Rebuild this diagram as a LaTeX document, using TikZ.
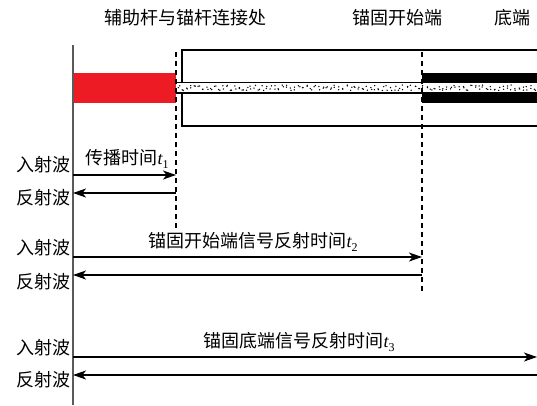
\documentclass[tikz,border=0pt]{standalone}
\usepackage{fontspec}
\setmainfont{Liberation Serif}
\newfontfamily\cjk{Noto Sans CJK SC}
\usetikzlibrary{arrows.meta}
\definecolor{barred}{RGB}{237,28,36}
\definecolor{axisgray}{RGB}{90,90,90}
\tikzset{
  lbl/.style={font=\cjk\fontsize{18}{21}\selectfont, inner sep=0pt},
  side/.style={lbl, anchor=east},
  wave/.style={line width=1.1pt, -{Stealth[length=13pt,width=9pt,inset=3.5pt]}},
  guide/.style={line width=1.1pt, dash pattern=on 5pt off 4pt},
  axisline/.style={line width=1.8pt, draw=axisgray}
}
\newcommand{\tsub}[1]{{\rmfamily\itshape t}\raisebox{-0.25em}{\rmfamily\fontsize{12}{13}\selectfont #1}}
\begin{document}
\begin{tikzpicture}[x=1pt,y=-1pt]
\useasboundingbox (0,0) rectangle (537,405);
\clip (0,0) rectangle (537,405);
% bolt assembly
\draw[line width=1.3pt] (182,50) rectangle (560,126);
\fill[barred] (73,73) rectangle (176,103);
\fill[black] (422,73) rectangle (560,103);
\fill[white] (176,82.5) rectangle (560,93);
\pgfmathsetseed{7}
\foreach \i in {0,...,90}{
  \pgfmathsetmacro{\xa}{178+4*\i+rnd*2}
  \pgfmathsetmacro{\ya}{85+rnd*5.5}
  \pgfmathsetmacro{\xb}{178+4*\i+rnd*2}
  \pgfmathsetmacro{\yb}{85+rnd*5.5}
  \fill (\xa,\ya) circle (0.75);
  \fill (\xb,\yb) circle (0.75);
}
\draw[line width=1.1pt] (176,82.5) -- (560,82.5) (176,93) -- (560,93);
% axis
\coordinate (axtop) at (73,45);
\coordinate (axbot) at (73,405);
\draw[axisline] (axtop) -- (axbot);
% guides
\coordinate (g1t) at (176,52);
\coordinate (g1b) at (176,230);
\coordinate (g2t) at (422,52);
\coordinate (g2b) at (422,293);
\draw[guide] (g1t) -- (g1b);
\draw[guide] (g2t) -- (g2b);
% top labels
\node[lbl] (top1) at (185,18) {辅助杆与锚杆连接处};
\node[lbl] (top2) at (397,18) {锚固开始端};
\node[lbl] (top3) at (512,18) {底端};
% side labels
\node[side] (in1) at (71,165) {入射波};
\node[side] (re1) at (71,198) {反射波};
\node[side] (in2) at (71,248) {入射波};
\node[side] (re2) at (71,282) {反射波};
\node[side] (in3) at (71,348) {入射波};
\node[side] (re3) at (71,380) {反射波};
% wave endpoints
\coordinate (a1s) at (73,175);  \coordinate (a1e) at (176,175);
\coordinate (b1s) at (176,193); \coordinate (b1e) at (73,193);
\coordinate (a2s) at (73,257);  \coordinate (a2e) at (422,257);
\coordinate (b2s) at (422,275); \coordinate (b2e) at (73,275);
\coordinate (a3s) at (73,357);  \coordinate (a3e) at (537,357);
\coordinate (b3s) at (537,375); \coordinate (b3e) at (73,375);
\draw[wave] (a1s) -- (a1e);
\draw[wave] (b1s) -- (b1e);
\draw[wave] (a2s) -- (a2e);
\draw[wave] (b2s) -- (b2e);
\draw[wave] (a3s) -- (a3e);
\draw[wave] (b3s) -- (b3e);
% time labels
\node[lbl] (t1) at (127,159) {传播时间\tsub{1}};
\node[lbl] (t2) at (253,242) {锚固开始端信号反射时间\tsub{2}};
\node[lbl] (t3) at (299,342) {锚固底端信号反射时间\tsub{3}};
\end{tikzpicture}
\end{document}
